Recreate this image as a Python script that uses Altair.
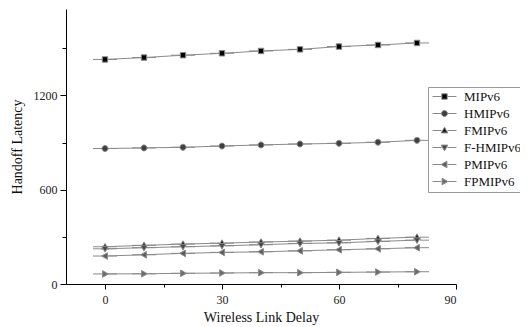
import altair as alt
import pandas as pd

delay = [0, 10, 20, 30, 40, 50, 60, 70, 80]
series = ["MIPv6", "HMIPv6", "FMIPv6", "F-HMIPv6", "PMIPv6", "FPMIPv6"]
mipv6 = [1429, 1441, 1456, 1468, 1483, 1493, 1511, 1521, 1534]
hmipv6 = [862, 866, 870, 878, 885, 891, 895, 902, 914]
fmipv6 = [237, 246, 254, 260, 267, 273, 279, 290, 298]
fhmipv6 = [224, 231, 237, 243, 250, 258, 262, 271, 279]
pmipv6 = [178, 186, 195, 201, 205, 211, 218, 224, 231]
fpmipv6 = [64, 65, 68, 70, 72, 72, 74, 76, 78]

marker_colors = ["#000000", "#404040", "#1a1a1a", "#484848", "#5e5e5e", "#6c6c6c"]
stub = "M-4,0H-1M1,0H4"
shapes = [
    stub + "M-0.9,-0.9H0.9V0.9H-0.9Z",
    stub + "M1,0A1,1,0,1,1,-1,0A1,1,0,1,1,1,0Z",
    stub + "M0,-1.1L1.1,0.8L-1.1,0.8Z",
    stub + "M0,1.1L1.1,-0.8L-1.1,-0.8Z",
    stub + "M-1.1,0L0.8,-1.1L0.8,1.1Z",
    stub + "M1.1,0L-0.8,-1.1L-0.8,1.1Z",
]

rows = []
for name, vals in zip(series, [mipv6, hmipv6, fmipv6, fhmipv6, pmipv6, fpmipv6]):
    for d, v in zip(delay, vals):
        rows.append({"delay": d, "latency": v, "series": name})
df = pd.DataFrame(rows)

font = "Liberation Serif"

x_enc = alt.X(
    "delay:Q",
    scale=alt.Scale(domain=[-10, 90], nice=False, zero=False),
    axis=alt.Axis(
        title="Wireless Link Delay",
        values=[0, 15, 30, 45, 60, 75, 90],
        format="d",
        labelExpr="datum.value % 30 === 0 ? datum.label : ''",
        tickSize={"condition": {"test": "datum.value % 30 === 0", "value": 5}, "value": 3},
        grid=False,
        labelPadding=5,
        titlePadding=5,
    ),
)
y_enc = alt.Y(
    "latency:Q",
    scale=alt.Scale(domain=[0, 1750], nice=False),
    axis=alt.Axis(
        title="Handoff Latency",
        values=[0, 300, 600, 900, 1200, 1500],
        format="d",
        labelExpr="datum.value % 600 === 0 ? datum.label : ''",
        tickSize={"condition": {"test": "datum.value % 600 === 0", "value": 6}, "value": 4},
        grid=False,
        labelPadding=3,
        titlePadding=9,
    ),
)

lines = alt.Chart(df).mark_line(color="#8a8a8a", strokeWidth=1).encode(
    x=x_enc, y=y_enc, detail="series:N"
)

points = alt.Chart(df).mark_point(
    filled=True, size=36, stroke="#8a8a8a", strokeWidth=1, opacity=1
).encode(
    x=x_enc,
    y=y_enc,
    color=alt.Color(
        "series:N",
        scale=alt.Scale(domain=series, range=marker_colors),
        legend=alt.Legend(
            title=None,
            orient="none",
            legendX=362,
            legendY=78,
            labelFont=font,
            labelFontSize=13,
            labelColor="#111",
            labelOffset=13,
            symbolOffset=7,
            rowPadding=3,
            padding=3,
            strokeColor="#999",
            fillColor="white",
            symbolStrokeColor="#8a8a8a",
            symbolStrokeWidth=1,
            symbolSize=36,
        ),
    ),
    shape=alt.Shape("series:N", scale=alt.Scale(domain=series, range=shapes), legend=None),
)

chart = (
    alt.layer(lines, points)
    .properties(
        width=390,
        height=275,
        autosize=alt.AutoSizeParams(type="none"),
        padding={"left": 58, "top": 1, "right": 64, "bottom": 41},
    )
    .configure_view(stroke=None)
    .configure_axis(
        domainColor="#000",
        tickColor="#000",
        labelFont=font,
        titleFont=font,
        labelFontSize=12,
        titleFontSize=14,
        titleFontWeight="normal",
        labelColor="#222",
        titleColor="#111",
    )
)

chart.save("out.html", embed_options={"renderer": "svg", "actions": False})
